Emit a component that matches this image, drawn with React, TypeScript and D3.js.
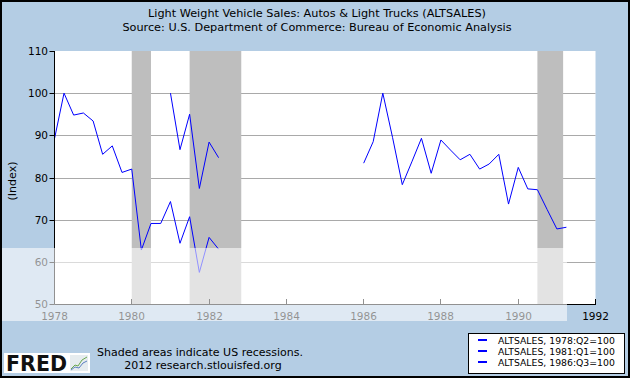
import React from 'react';
import * as d3 from 'd3';

const W = 630;
const H = 378;

// Series (quarterly index values)
const s1Start = { year: 1978, q: 1 };
const s1Values = [89.2, 100, 94.8, 95.3, 93.4, 85.5, 87.5, 81.2, 82.0, 62.8, 69.1, 69.1, 74.3, 64.4, 70.7, 57.5, 65.8, 63.0];
const s2Start = { year: 1981, q: 1 };
const s2Values = [100, 86.6, 95.0, 77.4, 88.4, 84.7];
const s3Start = { year: 1986, q: 1 };
const s3Values = [83.4, 88.5, 100, 89.5, 78.3, 83.7, 89.3, 81.0, 88.9, 86.5, 84.2, 85.5, 82.0, 83.2, 85.5, 73.7, 82.4, 77.3, 77.1, 72.4, 67.8, 68.2];

const legendLabels = ['ALTSALES, 1978:Q2=100', 'ALTSALES, 1981:Q1=100', 'ALTSALES, 1986:Q3=100'];

const recessions: [string, string][] = [
  ['1980-01-01', '1980-07-01'],
  ['1981-07-01', '1982-11-01'],
  ['1990-07-01', '1991-03-01'],
];

const yTicks = [50, 60, 70, 80, 90, 100, 110];
const yGrid = [60, 70, 80, 90, 100];
const xTickYears = [1978, 1980, 1982, 1984, 1986, 1988, 1990, 1992];

const FONT = '"DejaVu Sans", Verdana, sans-serif';

function quarterDate(start: { year: number; q: number }, i: number) {
  const m = (start.q - 1) * 3 + i * 3;
  return new Date(start.year + Math.floor(m / 12), m % 12, 1);
}

export default function App() {
  const left = 54.5;
  const right = 595.5;
  const top = 51;
  const bottom = 304;

  const x = d3.scaleTime().domain([new Date(1978, 0, 1), new Date(1992, 0, 1)]).range([left, right]);
  const y = d3.scaleLinear().domain([50, 110]).range([bottom, top]);

  const seriesList = [
    { start: s1Start, values: s1Values },
    { start: s2Start, values: s2Values },
    { start: s3Start, values: s3Values },
  ];

  const line = d3
    .line<[Date, number]>()
    .x((d) => x(d[0]))
    .y((d) => y(d[1]));

  const pr = (v: number) => Math.round(v) + 0.5;

  return (
    <svg
      width={W}
      height={H}
      style={{ position: 'absolute', left: 0, top: 0, display: 'block' }}
      fontFamily={FONT}
    >
      <rect x={0} y={0} width={W} height={H} fill="#b4cde4" />
      {/* Titles */}
      <text x={317} y={17} fontSize={11.25} textAnchor="middle" fill="#000">
        Light Weight Vehicle Sales: Autos &amp; Light Trucks (ALTSALES)
      </text>
      <text x={317} y={31} fontSize={11.25} textAnchor="middle" fill="#000">
        Source: U.S. Department of Commerce: Bureau of Economic Analysis
      </text>

      {/* Plot area */}
      <rect x={left} y={top} width={right - left} height={bottom - top} fill="#ffffff" />
      {yGrid.map((v) => (
        <line key={'g' + v} x1={left} x2={right} y1={pr(y(v))} y2={pr(y(v))} stroke="#a9a9a9" strokeWidth={1} />
      ))}
      {recessions.map(([a, b], i) => {
        const x0 = x(new Date(a));
        const x1 = x(new Date(b));
        return <rect key={'r' + i} x={x0} y={top} width={x1 - x0} height={bottom - top} fill="#bebebe" />;
      })}

      {/* Series */}
      {seriesList.map((s, i) => (
        <path
          key={'s' + i}
          d={line(s.values.map((v, j) => [quarterDate(s.start, j), v] as [Date, number])) || ''}
          fill="none"
          stroke="#0000ff"
          strokeWidth={1}
        />
      ))}

      {/* Axes */}
      <line x1={left} x2={left} y1={top} y2={bottom + 0.5} stroke="#000" strokeWidth={1} />
      <line x1={left} x2={right + 0.5} y1={bottom + 0.5} y2={bottom + 0.5} stroke="#000" strokeWidth={1} />
      {yTicks.map((v) => (
        <g key={'yt' + v}>
          <line x1={left - 5} x2={left} y1={pr(y(v))} y2={pr(y(v))} stroke="#000" />
          <text x={48} y={y(v) + 4} fontSize={10.5} textAnchor="end" fill="#000">
            {v}
          </text>
        </g>
      ))}
      {xTickYears.map((yr) => {
        const xv = pr(x(new Date(yr, 0, 1)) - 0.5);
        return (
          <g key={'xt' + yr}>
            <line x1={xv} x2={xv} y1={bottom - 5} y2={bottom} stroke="#000" />
            <text x={xv} y={320} fontSize={10.5} textAnchor="middle" fill="#000">
              {yr}
            </text>
          </g>
        );
      })}
      <text
        x={0}
        y={0}
        fontSize={11}
        textAnchor="middle"
        fill="#000"
        transform={`translate(16,${181}) rotate(-90)`}
      >
        (Index)
      </text>

      {/* Watermark band (lighter overlay) */}
      <rect x={0} y={248} width={567} height={73} fill="#ffffff" opacity={0.57} />

      {/* Footer */}
      <rect x={4} y={353} width={86} height={20} fill="#ffffff" />
      <text x={6} y={371} fontSize={21} fontWeight="bold" fill="#111" textLength={61} lengthAdjust="spacingAndGlyphs">
        FRED
      </text>
      <rect x={70} y={355} width={18} height={16} fill="#e6ecef" />
      <polyline points="71,369 75,365 78,366 82,360 87,357" fill="none" stroke="#6aa84f" strokeWidth={1} />
      <polyline points="71,370 75,367 79,368 83,363 87,361" fill="none" stroke="#5b7fbf" strokeWidth={1} />
      <text x={97} y={356} fontSize={11} fill="#000">
        Shaded areas indicate US recessions.
      </text>
      <text x={203} y={369} fontSize={11} textAnchor="middle" fill="#000">
        2012 research.stlouisfed.org
      </text>

      {/* Legend */}
      <rect x={468.5} y={333.5} width={156} height={40} fill="#ffffff" stroke="#000" strokeWidth={1} />
      {legendLabels.map((lab, i) => (
        <g key={'l' + i}>
          <line x1={478} x2={487} y1={340 + i * 11} y2={340 + i * 11} stroke="#0000ff" strokeWidth={2} />
          <text x={498} y={343.5 + i * 11} fontSize={9.3} fill="#000">
            {lab}
          </text>
        </g>
      ))}

      {/* Outer border */}
      <rect x={1} y={1} width={W - 2} height={H - 2} fill="none" stroke="#000" strokeWidth={2} />
    </svg>
  );
}
